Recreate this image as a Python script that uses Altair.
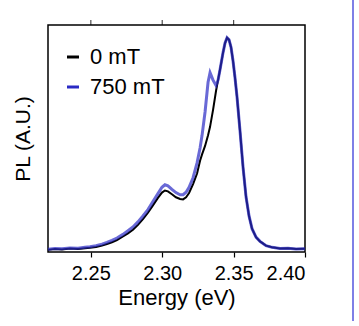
import altair as alt
import pandas as pd

# Energy axis (eV)
energy = [2.2200, 2.2249, 2.2298, 2.2354, 2.2410, 2.2459, 2.2494, 2.2536, 2.2578, 2.2613,
          2.2648, 2.2683, 2.2725, 2.2760, 2.2795, 2.2830, 2.2865, 2.2900, 2.2935, 2.2970,
          2.2998, 2.3019, 2.3040, 2.3068, 2.3096, 2.3125, 2.3146, 2.3167, 2.3188, 2.3216,
          2.3244, 2.3265, 2.3279, 2.3300, 2.3321, 2.3335, 2.3356, 2.3377, 2.3391, 2.3405,
          2.3426, 2.3440, 2.3454, 2.3468, 2.3482, 2.3496, 2.3510, 2.3524, 2.3545, 2.3566,
          2.3587, 2.3608, 2.3629, 2.3657, 2.3685, 2.3727, 2.3769, 2.3825, 2.3881, 2.3937,
          2.4000]

# PL intensity, 0 mT
pl_0mT = [0.000, 0.004, 0.002, 0.006, 0.004, 0.008, 0.010, 0.014, 0.020, 0.028,
          0.036, 0.046, 0.063, 0.078, 0.095, 0.118, 0.145, 0.175, 0.210, 0.245,
          0.270, 0.280, 0.276, 0.262, 0.248, 0.240, 0.238, 0.248, 0.268, 0.310,
          0.360, 0.420, 0.450, 0.490, 0.540, 0.580, 0.660, 0.750, 0.800, 0.850,
          0.930, 0.975, 1.000, 0.990, 0.955, 0.890, 0.810, 0.720, 0.560, 0.390,
          0.250, 0.160, 0.100, 0.060, 0.040, 0.020, 0.012, 0.006, 0.008, 0.004,
          0.005]

# PL intensity, 750 mT
pl_750mT = [0.003, 0.006, 0.005, 0.009, 0.008, 0.012, 0.015, 0.020, 0.027, 0.035,
            0.045, 0.056, 0.073, 0.090, 0.108, 0.132, 0.160, 0.190, 0.228, 0.265,
            0.295, 0.307, 0.302, 0.285, 0.270, 0.260, 0.260, 0.272, 0.295, 0.340,
            0.410, 0.480, 0.540, 0.650, 0.790, 0.835, 0.800, 0.775, 0.800, 0.850,
            0.930, 0.975, 1.000, 0.990, 0.955, 0.890, 0.810, 0.720, 0.560, 0.390,
            0.250, 0.160, 0.100, 0.060, 0.040, 0.020, 0.012, 0.006, 0.008, 0.004,
            0.005]

series = ["0 mT", "750 mT"]
colors = ["#000000", "#2a2ac4"]
x_ticks = [2.25, 2.30, 2.35, 2.40]

df0 = pd.DataFrame({"E": energy, "PL": pl_0mT, "field": series[0]})
df1 = pd.DataFrame({"E": energy, "PL": pl_750mT, "field": series[1]})

FONT = "Liberation Sans"

xscale = alt.Scale(domain=[2.22, 2.40], nice=False, zero=False)
yscale = alt.Scale(domain=[-0.01, 1.06], nice=False, zero=False)
cscale = alt.Scale(domain=series, range=colors)

x_enc = alt.X("E:Q", scale=xscale,
              axis=alt.Axis(title="Energy (eV)", values=x_ticks, format=".2f",
                            grid=False, domain=False, tickColor="black", tickSize=5,
                            tickWidth=1.2, labelFontSize=20, labelColor="black",
                            labelPadding=6, titleFontSize=22, titleFontWeight="normal",
                            titleColor="black", titlePadding=4, labelFont=FONT,
                            titleFont=FONT))
y_enc = alt.Y("PL:Q", scale=yscale,
              axis=alt.Axis(title="PL (A.U.)", labels=False, ticks=False, grid=False,
                            domain=False, titleFontSize=21, titleFontWeight="normal",
                            titleColor="black", titlePadding=15, titleFont=FONT))

color_enc = alt.Color("field:N", scale=cscale,
                      legend=alt.Legend(title=None, orient="none", legendX=14, legendY=21,
                                        symbolType="stroke", symbolSize=144,
                                        symbolStrokeWidth=3, labelFontSize=22,
                                        labelFont=FONT, labelColor="black",
                                        labelOffset=6, rowPadding=8, padding=0))

black = alt.Chart(df0).mark_line(strokeWidth=2).encode(
    x=x_enc, y=y_enc, color=color_enc)
blue = alt.Chart(df1).mark_line(strokeWidth=3, strokeOpacity=0.7).encode(
    x=x_enc, y=y_enc, color=color_enc)

# top mirror ticks
top_ticks = alt.Chart(pd.DataFrame({"E": x_ticks[:3]})).mark_tick(
    orient="vertical", color="black", thickness=1.2, size=5).encode(
    x=x_enc, y=alt.value(-2.5))

# decorative card border on the right
border = alt.Chart(pd.DataFrame({"a": [0]})).mark_rule(
    color="#7f7fe6", strokeWidth=2).encode(
    x=alt.value(305), y=alt.value(-25), y2=alt.value(296))

chart = alt.layer(black, blue, top_ticks, border).properties(
    width=257, height=227,
    background="white",
    autosize=alt.AutoSizeParams(type="none"),
    padding={"left": 48, "top": 25, "right": 54, "bottom": 74},
).configure_view(stroke="black", strokeWidth=1.5)

chart.save("out.html", embed_options={"renderer": "svg", "actions": False})
